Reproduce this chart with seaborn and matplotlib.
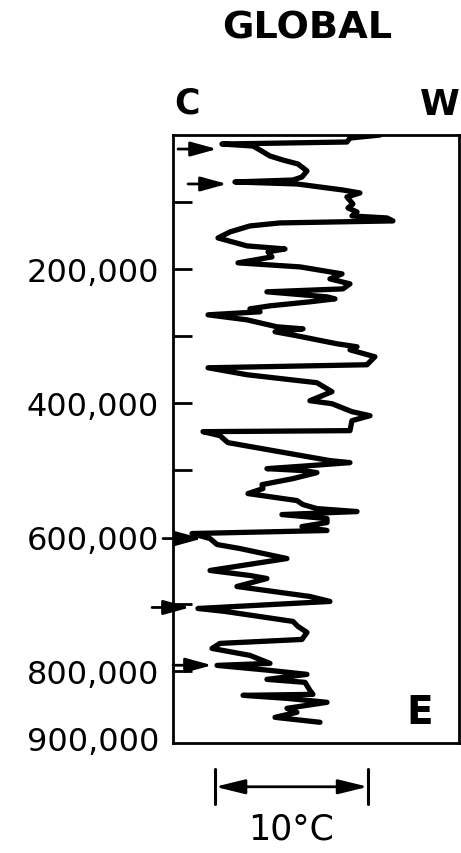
import matplotlib
matplotlib.use('Agg')
import matplotlib.pyplot as plt
import seaborn as sns
import pandas as pd

# temperature record (age in years, temperature in deg C above the left edge)
age = [0, 4500, 10400, 13400, 16400, 22400, 31300, 37300, 43200, 53600,
       62600, 67100, 70000, 73000, 82000, 86400, 92400, 102800, 108800, 114700,
       120700, 123700, 128100, 131100, 135600, 144500, 153500, 165400, 169900, 174300,
       181800, 190700, 196700, 204100, 207100, 214600, 222000, 229500, 233900, 241400,
       244400, 248800, 254800, 259300, 263700, 268200, 275700, 286100, 289100, 293500,
       299500, 311400, 315900, 320400, 330800, 342700, 347200, 357600, 369500, 382900,
       396300, 400800, 412700, 418700, 426100, 441000, 442500, 448500, 458900, 485700,
       488700, 493200, 497700, 500600, 503600, 512600, 521500, 527500, 534900, 545300,
       551300, 557300, 561700, 566200, 572200, 578100, 584100, 590000, 594500, 602000,
       610900, 616900, 631800, 649600, 657100, 661600, 673500, 688400, 695800, 706300,
       710700, 725600, 733100, 742000, 752500, 758400, 765900, 776300, 788200, 791200,
       798700, 804600, 812100, 816500, 828400, 834400, 835900, 840400, 846300, 855300,
       861200, 868700, 876100]
temp = [13.53, 11.57, 11.37, 3.20, 5.23, 5.69, 6.34, 7.19, 8.17, 8.76,
        8.43, 7.84, 4.05, 8.10, 11.11, 12.22, 11.37, 11.76, 11.44, 12.03,
        11.70, 13.99, 14.38, 6.99, 5.03, 3.73, 2.94, 4.84, 7.32, 6.21,
        6.47, 4.25, 8.30, 10.26, 11.05, 10.26, 11.57, 11.11, 6.14, 10.07,
        10.59, 8.95, 6.34, 5.03, 5.69, 2.29, 4.84, 6.80, 8.50, 6.67,
        8.10, 10.72, 12.03, 11.57, 13.20, 12.68, 2.29, 4.84, 9.41, 10.39,
        8.95, 10.39, 11.70, 12.88, 11.70, 11.57, 1.96, 3.07, 3.59, 10.26,
        11.57, 8.95, 6.14, 8.50, 9.41, 7.84, 5.82, 5.88, 4.90, 8.10,
        8.50, 9.41, 12.03, 7.12, 10.07, 10.07, 8.43, 10.07, 1.24, 2.42,
        2.88, 4.38, 7.45, 2.42, 5.03, 6.14, 4.18, 8.95, 10.26, 1.63,
        3.40, 7.84, 8.17, 8.76, 8.43, 3.07, 2.55, 5.03, 6.34, 2.88,
        6.34, 8.76, 6.14, 8.63, 8.95, 9.15, 4.58, 7.45, 10.07, 7.45,
        8.10, 6.67, 9.61]

# cold-stage arrows: age, tail temp, head temp
arrow_age = [20900, 73000, 602000, 704800, 791000]
arrow_tail = [0.33, 0.98, -0.65, -1.37, 0.0]
arrow_head = [2.88, 3.53, 1.90, 1.11, 2.55]

major_ticks = [200000, 400000, 600000, 800000, 900000]
major_labels = ['200,000', '400,000', '600,000', '800,000', '900,000']
minor_ticks = [100000, 300000, 500000, 700000]

df = pd.DataFrame({'age': age, 'temp': temp})

sns.set_style('white')
plt.rcParams['font.family'] = ['DejaVu Sans']
plt.rcParams['text.color'] = 'black'
plt.rcParams['ytick.color'] = 'black'
plt.rcParams['ytick.labelcolor'] = 'black'

fig = plt.figure(figsize=(4.61, 8.54), dpi=100)
ax = fig.add_axes([0.3753, 0.1288, 0.6204, 0.7119])

sns.lineplot(data=df, x='temp', y='age', sort=False, estimator=None,
             color='black', linewidth=3.8, ax=ax)
ax.lines[0].set_solid_joinstyle('round')
ax.lines[0].set_solid_capstyle('round')

ax.set_xlim(0, 18.7)
ax.set_ylim(907000, 0)
ax.set_xlabel('')
ax.set_ylabel('')
ax.set_xticks([])

for s in ax.spines.values():
    s.set_visible(True)
    s.set_color('black')
    s.set_linewidth(2.0)

ax.set_yticks(major_ticks)
ax.set_yticklabels(major_labels)
ax.set_yticks(minor_ticks, minor=True)
ax.tick_params(axis='y', which='both', direction='in', length=13.5, width=2,
               color='black', labelcolor='black', left=True, labelsize=23, pad=10)
ax.yaxis.get_major_ticks()[-1].tick1line.set_visible(False)

# arrows marking cold maxima
for a, t0, t1 in zip(arrow_age, arrow_tail, arrow_head):
    ax.annotate('', xy=(t1, a), xytext=(t0, a), annotation_clip=False,
                arrowprops=dict(arrowstyle='-|>,head_length=0.8,head_width=0.22',
                                mutation_scale=20, lw=2, color='black',
                                shrinkA=0, shrinkB=0))
ax.plot([0.8, 0.8], [arrow_age[-1], 800000], color='black', lw=2, clip_on=False)

# 10 degree scale bar under the box
tr = ax.get_xaxis_transform()
bar_left, bar_right = 2.75, 12.75
ax.annotate('', xy=(bar_right, -0.072), xytext=(bar_left, -0.072), xycoords=tr,
            annotation_clip=False,
            arrowprops=dict(arrowstyle='<|-|>,head_length=0.9,head_width=0.22',
                            mutation_scale=20, lw=2, color='black',
                            shrinkA=0, shrinkB=0))
for bx in (bar_left, bar_right):
    ax.plot([bx, bx], [-0.043, -0.100], transform=tr, color='black', lw=2.2,
            clip_on=False)
ax.text((bar_left + bar_right) / 2, -0.141, '10°C', transform=tr, ha='center',
        va='center', fontsize=25, color='black')

fig.text(0.666, 0.967, 'GLOBAL', ha='center', va='center', fontsize=27.5,
         fontweight='bold', color='black')
fig.text(0.406, 0.879, 'C', ha='center', va='center', fontsize=25,
         fontweight='bold', color='black')
fig.text(0.954, 0.877, 'W', ha='center', va='center', fontsize=26,
         fontweight='bold', color='black')
fig.text(0.911, 0.165, 'E', ha='center', va='center', fontsize=28,
         fontweight='bold', color='black')

fig.savefig('out.png', dpi=100, facecolor='white')
